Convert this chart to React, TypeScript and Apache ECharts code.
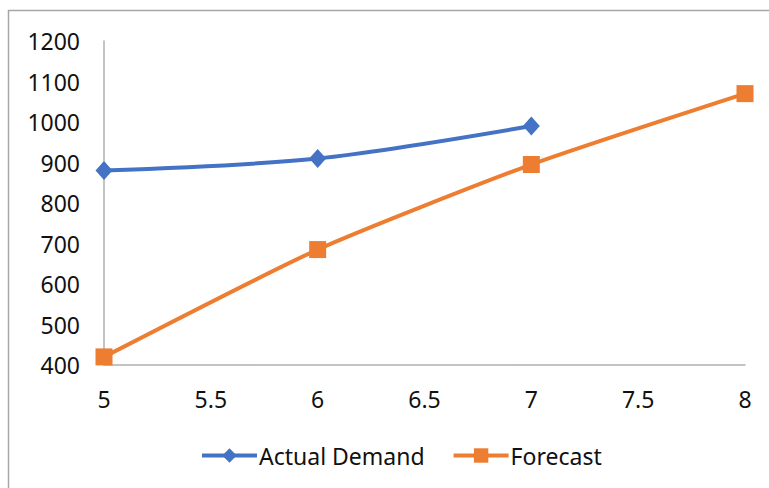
import React, { useEffect, useRef } from "react";
import * as echarts from "echarts";

// Period numbers on the x axis
const periods = [5, 6, 7, 8];
// Actual demand observed for periods 5–7
const actualDemand = [880, 910, 990];
// Forecast for periods 5–8
const forecast = [420, 685, 895, 1070];

const xTicks = { min: 5, max: 8, interval: 0.5 };
const yTicks = { min: 400, max: 1200, interval: 100 };

const FONT = "'Noto Sans', 'Open Sans', sans-serif";

export default function App() {
  const ref = useRef<HTMLDivElement>(null);

  useEffect(() => {
    if (!ref.current) return;
    const chart = echarts.init(ref.current, null, { renderer: "svg" });

    const actualPts = actualDemand.map((v, i) => [periods[i], v]);
    const forecastPts = forecast.map((v, i) => [periods[i], v]);

    chart.setOption({
      animation: false,
      backgroundColor: "#ffffff",
      textStyle: { fontFamily: FONT },
      graphic: [
        {
          type: "rect",
          silent: true,
          shape: { x: 8.5, y: 10.5, width: 800, height: 520 },
          style: { fill: "none", stroke: "#a6a6a6", lineWidth: 1.5 },
        },
      ],
      grid: { left: 104, right: 24, top: 41, bottom: 123 },
      xAxis: {
        type: "value",
        min: xTicks.min,
        max: xTicks.max,
        interval: xTicks.interval,
        axisLine: { show: true, onZero: false, lineStyle: { color: "#b0b0b0", width: 1.5 } },
        axisTick: { show: false },
        splitLine: { show: false },
        axisLabel: { color: "#111", fontSize: 23, fontFamily: FONT, margin: 22, formatter: (v: number) => String(v) },
      },
      yAxis: {
        type: "value",
        min: yTicks.min,
        max: yTicks.max,
        interval: yTicks.interval,
        axisLine: { show: true, onZero: false, lineStyle: { color: "#b0b0b0", width: 1.5 } },
        axisTick: { show: false },
        splitLine: { show: false },
        axisLabel: { color: "#111", fontSize: 23, fontFamily: FONT, margin: 24, formatter: (v: number) => String(v) },
      },
      legend: {
        left: 195,
        top: 439,
        itemWidth: 55,
        itemHeight: 18,
        itemGap: 27,
        lineStyle: { width: 4 },
        textStyle: { color: "#111", fontSize: 23, fontFamily: FONT, padding: [0, 0, 0, -3] },
        data: ["Actual Demand", "Forecast"],
      },
      series: [
        {
          name: "Actual Demand",
          type: "line",
          data: actualPts,
          smooth: 0.3,
          symbol: "diamond",
          symbolSize: [17, 19],
          lineStyle: { color: "#4472C4", width: 4 },
          itemStyle: { color: "#4472C4" },
          z: 3,
        },
        {
          name: "Forecast",
          type: "line",
          data: forecastPts,
          smooth: 0.2,
          symbol: "rect",
          symbolSize: 17,
          lineStyle: { color: "#ED7D31", width: 4 },
          itemStyle: { color: "#ED7D31" },
          z: 2,
        },
      ],
    });

    return () => chart.dispose();
  }, []);

  return (
    <div
      ref={ref}
      style={{ position: "fixed", left: 0, top: 0, width: 769, height: 488 }}
    />
  );
}
